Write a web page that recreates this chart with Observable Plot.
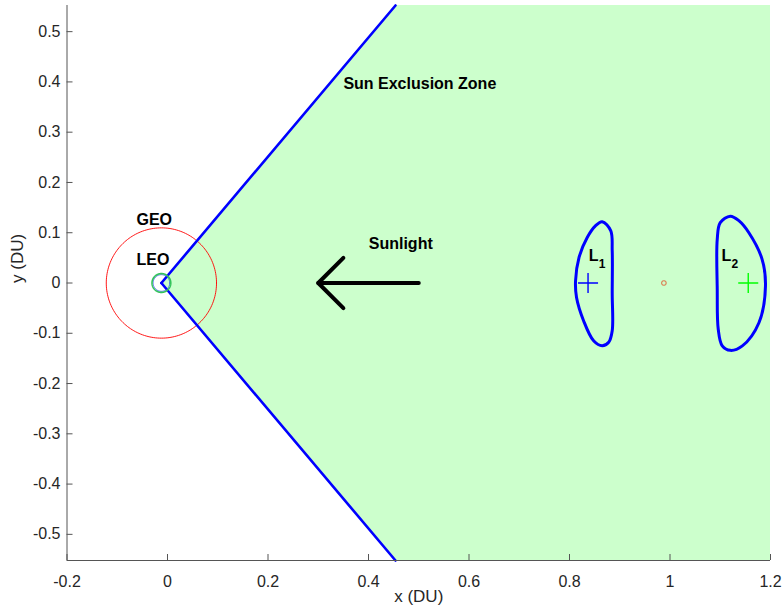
<!DOCTYPE html>
<html>
<head>
<meta charset="utf-8">
<script src="https://cdn.jsdelivr.net/npm/d3@7"></script>
<script src="https://cdn.jsdelivr.net/npm/@observablehq/plot@0.6"></script>
<style>
  html, body { margin: 0; padding: 0; background: #ffffff; }
  #chart { width: 784px; height: 614px; }
</style>
</head>
<body>
<div id="chart"></div>
<script>
// ---- axes ----
const xDomain = [-0.2, 1.2];
const yDomain = [-0.552, 0.552];
const xTicks = [-0.2, 0, 0.2, 0.4, 0.6, 0.8, 1, 1.2];
const yTicks = [-0.5, -0.4, -0.3, -0.2, -0.1, 0, 0.1, 0.2, 0.3, 0.4, 0.5];
const xLabel = "x (DU)";
const yLabel = "y (DU)";

// ---- bodies (DU) ----
const earthX = -0.01215;
const moonX = 0.98785;
const earthRadius = 0.0166;
const leoRadius = 0.0187;
const geoRadius = 0.1097;
const moonRadius = 0.0045;
const lagrangeNames = ["L1", "L2"];
const lagrangeX = [0.8369, 1.1557];
const lagrangeColors = ["#0000ff", "#00ff00"];

// ---- sun exclusion zone ----
const zoneX = [earthX, 0.4537, 1.2];
const zoneHalfHeight = [0, 0.552, 0.552];
const wedgeTopEnd = [0.4537, 0.552];
const wedgeBottomEnd = [0.4537, -0.552];

// ---- sunlight arrow ----
const arrowShaft = [[0.5, 0], [0.3, 0]];
const arrowHead = [[0.35, 0.05], [0.3, 0], [0.35, -0.05]];

// ---- closed curves around L1 / L2 ----
const l1CurveX = [0.865, 0.882, 0.885, 0.885, 0.885, 0.878, 0.865, 0.848, 0.828, 0.814, 0.812, 0.819, 0.835, 0.852];
const l1CurveY = [0.122, 0.104, 0.064, -0.021, -0.095, -0.118, -0.125, -0.115, -0.075, -0.029, 0.004, 0.051, 0.090, 0.114];
const l2CurveX = [1.120, 1.100, 1.094, 1.094, 1.096, 1.104, 1.120, 1.144, 1.177, 1.190, 1.183, 1.157, 1.137];
const l2CurveY = [0.133, 0.120, 0.087, -0.012, -0.092, -0.125, -0.134, -0.125, -0.079, -0.006, 0.048, 0.100, 0.124];

// ---- annotations ----
const notes = [
  {text: "Sun Exclusion Zone", x: 0.35, y: 0.397},
  {text: "Sunlight", x: 0.4005, y: 0.077},
  {text: "GEO", x: -0.0617, y: 0.125},
  {text: "LEO", x: -0.0617, y: 0.0465}
];
const lagrangeLabelX = [0.8385, 1.1025];
const lagrangeLabelY = [0.054, 0.054];
const lagrangeSub = ["1", "2"];

// helpers
const zone = zoneX.map((x, i) => ({x, lo: -zoneHalfHeight[i], hi: zoneHalfHeight[i]}));
const toPts = (xs, ys) => xs.map((x, i) => ({x, y: ys[i]}));
function ring(cx, cy, r) {
  return d3.range(0, 361, 2).map(a => ({x: cx + r * Math.cos(a * Math.PI / 180), y: cy + r * Math.sin(a * Math.PI / 180)}));
}
const lagr = lagrangeNames.map((n, i) => ({name: n, x: lagrangeX[i], y: 0, color: lagrangeColors[i]}));
const lagrLabels = lagrangeNames.map((n, i) => ({x: lagrangeLabelX[i], y: lagrangeLabelY[i], sub: lagrangeSub[i]}));

const font = "'Liberation Sans', Arial, Helvetica, sans-serif";

const chart = Plot.plot({
  width: 784,
  height: 614,
  marginLeft: 66.5,
  marginRight: 14,
  marginTop: 5,
  marginBottom: 54,
  x: {domain: xDomain},
  y: {domain: yDomain},
  style: {fontFamily: font, fontSize: "16px", color: "#262626", background: "white", overflow: "visible"},
  marks: [
    Plot.areaY(zone, {x: "x", y1: "lo", y2: "hi", fill: "#ccffcc", fillOpacity: 1}),
    Plot.line(ring(earthX, 0, geoRadius), {x: "x", y: "y", stroke: "#ff0000", strokeWidth: 0.9}),
    Plot.line([{x: earthX, y: 0}, {x: wedgeTopEnd[0], y: wedgeTopEnd[1]}], {x: "x", y: "y", stroke: "#0000ff", strokeWidth: 2.6}),
    Plot.line([{x: earthX, y: 0}, {x: wedgeBottomEnd[0], y: wedgeBottomEnd[1]}], {x: "x", y: "y", stroke: "#0000ff", strokeWidth: 2.6}),
    Plot.line(ring(earthX, 0, earthRadius), {x: "x", y: "y", stroke: "#3355ee", strokeWidth: 1}),
    Plot.line(ring(earthX, 0, leoRadius), {x: "x", y: "y", stroke: "#33c45a", strokeWidth: 1.6}),
    Plot.line(ring(moonX, 0, moonRadius), {x: "x", y: "y", stroke: "#d9875a", strokeWidth: 1.2}),
    Plot.line(arrowShaft, {x: d => d[0], y: d => d[1], stroke: "black", strokeWidth: 4, strokeLinecap: "round"}),
    Plot.line(arrowHead, {x: d => d[0], y: d => d[1], stroke: "black", strokeWidth: 4, strokeLinecap: "round", strokeLinejoin: "round"}),
    Plot.line(toPts(l1CurveX, l1CurveY), {x: "x", y: "y", curve: "catmull-rom-closed", stroke: "#0000ff", strokeWidth: 3}),
    Plot.line(toPts(l2CurveX, l2CurveY), {x: "x", y: "y", curve: "catmull-rom-closed", stroke: "#0000ff", strokeWidth: 3}),
    Plot.dot(lagr, {x: "x", y: "y", symbol: "plus", r: 6.5, stroke: "color", strokeWidth: 1.4}),
    Plot.text(notes, {x: "x", y: "y", text: "text", textAnchor: "start", fontWeight: "bold", fontSize: 16, fill: "black"}),
    Plot.text(lagrLabels, {x: "x", y: "y", text: () => "L", textAnchor: "start", fontWeight: "bold", fontSize: 16, fill: "black"}),
    Plot.text(lagrLabels, {x: "x", y: "y", text: "sub", textAnchor: "start", fontWeight: "bold", fontSize: 12, fill: "black", dx: 10, dy: 8.5}),
    Plot.ruleY([yDomain[0]], {stroke: "#555", strokeWidth: 1}),
    Plot.ruleX([xDomain[0]], {stroke: "#555", strokeWidth: 1}),
    Plot.axisX({ticks: xTicks, tickSize: -6, tickPadding: 21, tickFormat: d => String(d), label: null, fontSize: 16, stroke: "#555"}),
    Plot.axisY({ticks: yTicks, tickSize: -6, tickPadding: 12.5, tickFormat: d => String(d), label: null, fontSize: 16, stroke: "#555"}),
    Plot.text([xLabel], {frameAnchor: "bottom", dy: 41, text: d => d, fontSize: 17, fill: "#262626"}),
    Plot.text([yLabel], {frameAnchor: "left", dx: -49, rotate: -90, text: d => d, fontSize: 17, fill: "#262626"})
  ]
});
document.getElementById("chart").appendChild(chart);
</script>
</body>
</html>
